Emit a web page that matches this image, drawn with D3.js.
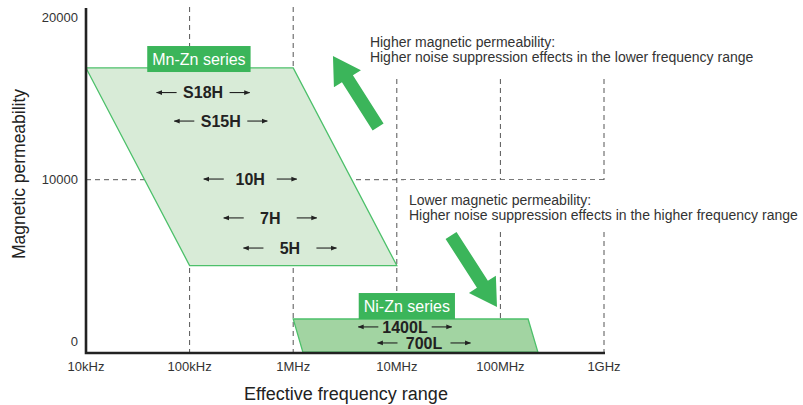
<!DOCTYPE html>
<html>
<head>
<meta charset="utf-8">
<script src="https://cdn.jsdelivr.net/npm/d3@7"></script>
<style>
  body { margin: 0; background: #fff; }
  svg { font-family: "Liberation Sans", Arial, Helvetica, sans-serif; }
</style>
</head>
<body>
<svg id="chart" width="803" height="405"></svg>
<script>
// axes
const freqTicks = [1e4, 1e5, 1e6, 1e7, 1e8, 1e9];
const freqLabels = ['10kHz', '100kHz', '1MHz', '10MHz', '100MHz', '1GHz'];
const permTicks = [0, 10000, 20000];

// series areas (corners: top-left, top-right, bottom-right, bottom-left)
const mnZnFreq = [1e4, 1e6, 1e7, 1e5];
const mnZnPerm = [16900, 16900, 4700, 4700];
const niZnFreq = [1e6, 1.85e8, 2.3e8, 1.24e6];
const niZnPerm = [1400, 1400, -650, -650];

// series tags
const seriesNames = ['Mn-Zn series', 'Ni-Zn series'];
const seriesFreq = [1.23e5, 1.25e7];
const seriesPerm = [17450, 2200];

// grades
const gradeNames = ['S18H', 'S15H', '10H', '7H', '5H', '1400L', '700L'];
const gradeFreq = [1.35e5, 2.0e5, 3.85e5, 6.0e5, 9.3e5, 1.2e7, 1.83e7];
const gradePerm = [15380, 13620, 10040, 7640, 5780, 910, -80];

// notes
const noteLines = [
  ['Higher magnetic permeability:', 'Higher noise suppression effects in the lower frequency range'],
  ['Lower magnetic permeability:', 'Higher noise suppression effects in the higher frequency range']
];
const noteFreq = [5.5e6, 1.31e7];
const notePerm = [18210, 8440];

// trend arrows [tail, tip]
const trendFreq = [[6.6e6, 2.42e6], [3.34e7, 9.27e7]];
const trendPerm = [[13250, 17640], [6560, 2140]];

const svg = d3.select('#chart');
const x = d3.scaleLog().domain([1e4, 1e9]).range([86, 604]);
const y = d3.scaleLinear().domain([-700, 20600]).range([353, 8]);

const green = '#3bb55a';

// grid
const grid = svg.append('g')
  .attr('stroke', '#555')
  .attr('stroke-width', 1)
  .attr('stroke-dasharray', '5,4');
grid.selectAll('line.v')
  .data(freqTicks.slice(1))
  .join('line')
  .attr('class', 'v')
  .attr('x1', d => x(d)).attr('x2', d => x(d))
  .attr('y1', y.range()[1] - 1).attr('y2', y.range()[0]);
grid.append('line')
  .attr('x1', x.range()[0]).attr('x2', x.range()[1])
  .attr('y1', y(10000)).attr('y2', y(10000));

// note texts on white backing
const notePad = [{ l: 5, r: 8, t: 60, b: 13 }, { l: 5, r: 8, t: 12, b: 9 }];
noteLines.forEach((lines, i) => {
  const g = svg.append('g');
  const bg = g.append('rect').attr('fill', '#fff');
  const t = g.append('text')
    .attr('x', x(noteFreq[i]))
    .attr('y', y(notePerm[i]))
    .attr('fill', '#333')
    .style('font-size', '14px');
  lines.forEach((s, j) => {
    t.append('tspan').attr('x', x(noteFreq[i])).attr('dy', j ? 15 : 0).text(s);
  });
  const b = t.node().getBBox();
  const p = notePad[i];
  bg.attr('x', b.x - p.l).attr('y', b.y - p.t)
    .attr('width', b.width + p.l + p.r).attr('height', b.height + p.t + p.b);
});

// areas
const line = d3.line();
svg.append('path')
  .attr('d', line(mnZnFreq.map((f, i) => [x(f), y(mnZnPerm[i])])) + 'Z')
  .attr('fill', '#d8ebd7')
  .attr('stroke', '#4cc06a')
  .attr('stroke-width', 1.3);
svg.append('path')
  .attr('d', line(niZnFreq.map((f, i) => [x(f), y(niZnPerm[i])])) + 'Z')
  .attr('fill', '#a2d4a2')
  .attr('stroke', '#4cc06a')
  .attr('stroke-width', 1.3);

// axes lines
svg.append('path')
  .attr('d', `M${x.range()[0]},${y.range()[1]}V${y.range()[0]}H${x.range()[1] + 1}`)
  .attr('fill', 'none')
  .attr('stroke', '#222')
  .attr('stroke-width', 2.6);

// tick labels
svg.append('g').selectAll('text')
  .data(freqTicks)
  .join('text')
  .attr('x', d => x(d))
  .attr('y', y.range()[0] + 18)
  .attr('text-anchor', 'middle')
  .attr('fill', '#333')
  .style('font-size', '13px')
  .text((d, i) => freqLabels[i]);
svg.append('g').selectAll('text')
  .data(permTicks)
  .join('text')
  .attr('x', x.range()[0] - 8)
  .attr('y', d => y(d))
  .attr('dy', '0.36em')
  .attr('text-anchor', 'end')
  .attr('fill', '#333')
  .style('font-size', '13px')
  .text(d => d);

// axis titles
svg.append('text')
  .attr('x', 346)
  .attr('y', 400)
  .attr('text-anchor', 'middle')
  .attr('fill', '#222')
  .style('font-size', '18px')
  .text('Effective frequency range');
svg.append('text')
  .attr('transform', 'translate(25,174) rotate(-90)')
  .attr('text-anchor', 'middle')
  .attr('fill', '#222')
  .style('font-size', '17.5px')
  .text('Magnetic permeability');

// series tags
seriesNames.forEach((s, i) => {
  const g = svg.append('g');
  const bg = g.append('rect').attr('fill', green);
  const t = g.append('text')
    .attr('x', x(seriesFreq[i]))
    .attr('y', y(seriesPerm[i]))
    .attr('dy', '0.35em')
    .attr('text-anchor', 'middle')
    .attr('fill', '#fff')
    .style('font-size', '16px')
    .text(s);
  const w = t.node().getComputedTextLength();
  bg.attr('x', x(seriesFreq[i]) - w / 2 - 5)
    .attr('y', y(seriesPerm[i]) - 13)
    .attr('width', w + 10)
    .attr('height', 26);
});

// grade labels with small arrows
svg.append('defs').append('marker')
  .attr('id', 'head')
  .attr('viewBox', '0 0 10 10')
  .attr('refX', 9).attr('refY', 5)
  .attr('markerWidth', 6).attr('markerHeight', 6)
  .attr('markerUnits', 'userSpaceOnUse')
  .attr('orient', 'auto')
  .append('path')
  .attr('d', 'M0,1L10,5L0,9Z')
  .attr('fill', '#222');

gradeNames.forEach((s, i) => {
  const cx = x(gradeFreq[i]);
  const cy = y(gradePerm[i]);
  const t = svg.append('text')
    .attr('x', cx).attr('y', cy).attr('dy', '0.36em')
    .attr('text-anchor', 'middle')
    .attr('fill', '#222')
    .style('font-size', '16px')
    .style('font-weight', 'bold')
    .text(s);
  const half = t.node().getComputedTextLength() / 2;
  const off = Math.max(half + 4, 26.5);
  [[cx - off, cx - off - 20], [cx + off, cx + off + 20]].forEach(([a, b]) => {
    svg.append('line')
      .attr('x1', a).attr('x2', b)
      .attr('y1', cy).attr('y2', cy)
      .attr('stroke', '#222')
      .attr('stroke-width', 1.1)
      .attr('marker-end', 'url(#head)');
  });
});

// big trend arrows
trendFreq.forEach((fs, i) => {
  const x0 = x(fs[0]), y0 = y(trendPerm[i][0]);
  const x1 = x(fs[1]), y1 = y(trendPerm[i][1]);
  const len = Math.hypot(x1 - x0, y1 - y0);
  const ang = Math.atan2(y1 - y0, x1 - x0) * 180 / Math.PI;
  const sw = 6.5, hw = 16, hl = 27;
  svg.append('path')
    .attr('transform', `translate(${x0},${y0}) rotate(${ang})`)
    .attr('d', `M0,${-sw}L${len - hl},${-sw}L${len - hl},${-hw}L${len},0L${len - hl},${hw}L${len - hl},${sw}L0,${sw}Z`)
    .attr('fill', green);
});
</script>
</body>
</html>
